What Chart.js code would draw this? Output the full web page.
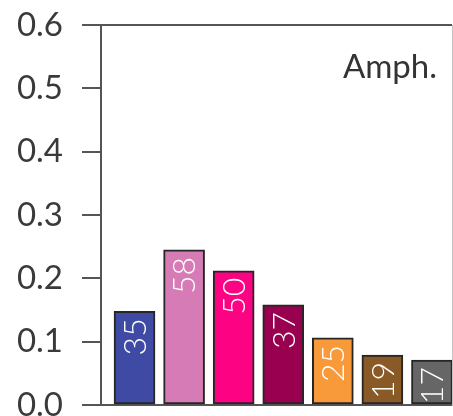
<!DOCTYPE html>
<html>
<head>
<meta charset="utf-8">
<script src="https://cdn.jsdelivr.net/npm/chart.js@4/dist/chart.umd.min.js"></script>
<style>
html,body{margin:0;padding:0;background:#fff;}
#wrap{width:453px;height:416px;position:relative;}
</style>
</head>
<body>
<div id="wrap"><canvas id="c"></canvas></div>
<script>
const positions = [1, 2, 3, 4, 5, 6, 7];
const fractions = [0.148, 0.245, 0.212, 0.158, 0.106, 0.079, 0.071];
const counts = [35, 58, 50, 37, 25, 19, 17];
const barColors = ['#3e4aa3', '#d77bb6', '#fd0282', '#99004f', '#f89a3a', '#8a5a26', '#666666'];
const yTicks = [0, 0.1, 0.2, 0.3, 0.4, 0.5, 0.6];
const panelLabel = 'Amph.';

const FONT = 'Lato, "Open Sans", sans-serif';

const barLabelPlugin = {
  id: 'barLabels',
  afterDatasetsDraw(chart) {
    const ctx = chart.ctx;
    const meta = chart.getDatasetMeta(0);
    ctx.save();
    ctx.fillStyle = '#ffffff';
    ctx.font = '300 32px ' + FONT;
    ctx.textAlign = 'right';
    ctx.textBaseline = 'middle';
    meta.data.forEach((bar, i) => {
      ctx.save();
      ctx.translate(bar.x, bar.y + 7);
      ctx.rotate(-Math.PI / 2);
      ctx.fillText(String(counts[i]), 0, 1);
      ctx.restore();
    });
    ctx.restore();
  }
};

const panelLabelPlugin = {
  id: 'panelLabel',
  afterDraw(chart) {
    const {ctx, chartArea} = chart;
    ctx.save();
    ctx.fillStyle = '#333333';
    ctx.font = '400 33px ' + FONT;
    ctx.textAlign = 'right';
    ctx.textBaseline = 'alphabetic';
    ctx.fillText(panelLabel, chartArea.right - 15, chartArea.top + 53);
    ctx.restore();
  }
};

const isEdge = v => Math.abs(v) < 1e-6 || Math.abs(v - 0.6) < 1e-6;

new Chart(document.getElementById('c'), {
  type: 'bar',
  data: {
    datasets: [{
      data: positions.map((p, i) => ({x: p, y: fractions[i]})),
      backgroundColor: barColors,
      borderColor: '#262626',
      borderWidth: 2,
      borderSkipped: false,
      barThickness: 41
    }]
  },
  options: {
    responsive: true,
    maintainAspectRatio: false,
    animation: false,
    devicePixelRatio: 1,
    layout: {padding: {top: 25, bottom: 11, left: 0, right: 0}},
    plugins: {legend: {display: false}, tooltip: {enabled: false}},
    scales: {
      x: {
        type: 'linear',
        offset: false,
        min: 0.324,
        max: 7.404,
        display: false
      },
      y: {
        position: 'left',
        min: 0,
        max: 0.6,
        afterBuildTicks(scale) {
          scale.ticks = yTicks.map(v => ({value: v}));
        },
        afterFit(scale) {
          scale.width = 101;
          scale.paddingTop = 0;
          scale.paddingBottom = 0;
        },
        border: {display: true, color: '#555555', width: 2},
        grid: {
          drawOnChartArea: true,
          drawTicks: true,
          tickLength: 19,
          lineWidth: 2,
          color: ctx => (ctx.tick && isEdge(ctx.tick.value)) ? '#555555' : 'rgba(0,0,0,0)',
          tickColor: '#555555'
        },
        ticks: {
          padding: 19,
          color: '#3a3a3a',
          font: {family: FONT, size: 33, weight: '400'},
          callback: v => Number(v).toFixed(1)
        }
      },
      y2: {
        position: 'right',
        display: true,
        afterFit(scale) {
          scale.width = 1;
          scale.paddingTop = 0;
          scale.paddingBottom = 0;
        },
        border: {display: true, color: '#c4c4c4', width: 1},
        grid: {display: true, drawOnChartArea: false, drawTicks: false},
        ticks: {display: false}
      }
    }
  },
  plugins: [barLabelPlugin, panelLabelPlugin]
});
</script>
</body>
</html>
